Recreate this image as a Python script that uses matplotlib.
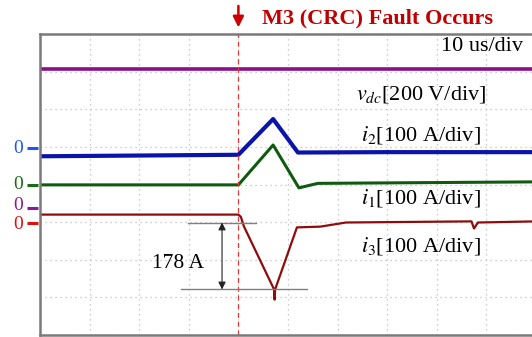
import matplotlib.pyplot as plt
import numpy as np

plt.rcParams['font.family'] = ['Liberation Serif', 'DejaVu Serif']
plt.rcParams['mathtext.fontset'] = 'stix'

# time axis in us, 10 us/div, fault at 40 us
t_fault = 40

# vdc [V]
t_vdc = [0, 100]
vdc = [742, 742]

# i2 [A]
t_i2 = [0, 40, 47.0, 52.0, 70, 100]
i2 = [-22, -18, 77, -12, -11, -11]

# i1 [A]
t_i1 = [0, 40, 47.0, 52.2, 56, 100]
i1 = [0, 0, 106, -8, 4, 8]

# i3 [A]
t_i3 = [0, 40, 40.5, 41.1, 47.2, 47.3, 47.4, 51.8, 56.5, 61.7, 87.0, 87.5, 88.3, 100]
i3 = [21, 21, 15, -10, -178, -205, -178, -13, -11, 0, 3, -16, 0, 3]

# channel zero level (div from bottom) and scale (units/div)
zero_vdc, scale_vdc = 3.37, 200
zero_i2, scale_i2 = 4.97, 100
zero_i1, scale_i1 = 3.99, 100
zero_i3, scale_i3 = 2.99, 100

c_vdc = '#8a0f8a'
c_i2 = '#0a14a8'
c_i1 = '#0f5a0f'
c_i3 = '#8e0c0c'


def to_div(v, zero, scale):
    return zero + np.array(v) / scale


fig = plt.figure(figsize=(5.32, 3.37), dpi=100)
ax = fig.add_axes([40 / 532, 2 / 337, 496 / 532, 301 / 337])
ax.set_xlim(0, 100)
ax.set_ylim(0, 8)
ax.set_xticks(np.arange(0, 101, 10))
ax.set_yticks(np.arange(0, 9, 1))
ax.tick_params(length=0, labelbottom=False, labelleft=False)
ax.grid(True, color='#bdbdbd', ls=(0, (1, 3)), lw=0.9)
for s in ['left', 'top', 'bottom']:
    ax.spines[s].set_color('#7a7a7a')
    ax.spines[s].set_linewidth(1.8)
ax.spines['right'].set_visible(False)

ax.plot(t_vdc, to_div(vdc, zero_vdc, scale_vdc), color=c_vdc, lw=2.6)
ax.plot(t_i2, to_div(i2, zero_i2, scale_i2), color=c_i2, lw=3.0)
ax.plot(t_i1, to_div(i1, zero_i1, scale_i1), color=c_i1, lw=2.2)
ax.plot(t_i3, to_div(i3, zero_i3, scale_i3), color=c_i3, lw=1.6)

# fault marker
ax.axvline(t_fault, color='#e03a3a', ls=(0, (4, 3)), lw=0.9)
ax.annotate('', xy=(t_fault, 8.1), xytext=(t_fault, 8.82), annotation_clip=False,
            arrowprops=dict(arrowstyle='-|>', color='#cc0000', lw=1.8, mutation_scale=16))
fig.text(262 / 532, 1 - 18 / 337, 'M3 (CRC) Fault Occurs', color='#c00000',
         fontsize=16, fontweight='bold', ha='left', va='center')

# zero markers on the left (text nudge keeps the two close ones apart)
zeros = [(zero_i2, '#2255ee', 0), (zero_i1, '#1a6b1a', 0),
         (zero_vdc, '#8a1a9a', 0.07), (zero_i3, '#dd1111', -0.05)]
for z, tc, dz in zeros:
    ax.plot([-2.6, -0.4], [z, z], color=tc, lw=2.2, clip_on=False, solid_capstyle='butt')
    ax.text(-4.4, z + dz, '0', color=tc, fontsize=14, ha='center', va='center')

# labels
ax.text(97.4, 7.66, '10 us/div', fontsize=16, ha='right', va='center')
ax.text(90.0, 6.38, r'$v_{dc}$[200 V/div]', fontsize=16, ha='right', va='center')
ax.text(88.8, 5.32, r'$i_2$[100 A/div]', fontsize=16, ha='right', va='center')
ax.text(88.8, 3.64, r'$i_1$[100 A/div]', fontsize=16, ha='right', va='center')
ax.text(88.8, 2.37, r'$i_3$[100 A/div]', fontsize=16, ha='right', va='center')

# peak measurement of i3
peak = min(i3[:5])
y_top = zero_i3
y_bot = to_div(peak, zero_i3, scale_i3)
ax.plot([29.8, 43.5], [y_top, y_top], color='#808080', lw=1.0)
ax.plot([28.4, 53.8], [y_bot, y_bot], color='#808080', lw=1.0)
ax.annotate('', xy=(36.7, y_bot), xytext=(36.7, y_top),
            arrowprops=dict(arrowstyle='<|-|>', color='#222222', lw=0.8,
                            mutation_scale=11, shrinkA=0, shrinkB=0))
ax.text(33.0, (y_top + y_bot) / 2 - 0.2, '%d A' % round(-peak), fontsize=15.5,
        ha='right', va='center')

fig.savefig('out.png', dpi=100)
